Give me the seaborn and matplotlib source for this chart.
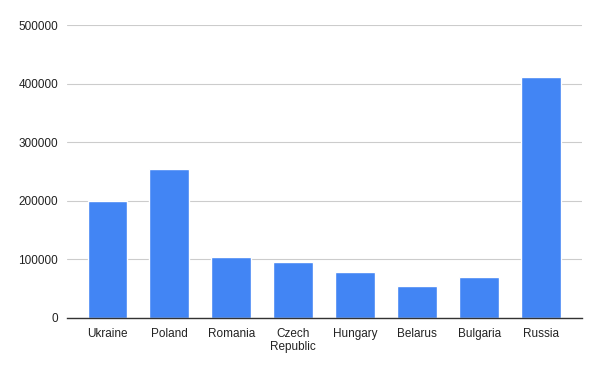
import matplotlib
matplotlib.use("Agg")
import matplotlib.pyplot as plt
import seaborn as sns
import pandas as pd

paises = ["Ukraine", "Poland", "Romania", "Czech\nRepublic", "Hungary",
          "Belarus", "Bulgaria", "Russia"]
valores = [200000, 254000, 104000, 96000, 79000, 55000, 70000, 412000]

df = pd.DataFrame({"pais": paises, "valor": valores})

sns.set_theme(style="white")
plt.rcParams["font.family"] = ["Liberation Sans", "DejaVu Sans"]

fig = plt.figure(figsize=(6, 3.71), dpi=100)
ax = fig.add_axes([0.111, 0.143, 0.859, 0.789])

sns.barplot(data=df, x="pais", y="valor", color="#4285f4", width=0.645,
            saturation=1, ax=ax, zorder=3)

ax.set_ylim(0, 500000)
ax.set_xlim(-0.66, 7.66)
ax.set_yticks([0, 100000, 200000, 300000, 400000, 500000])
ax.set_yticklabels(["0", "100000", "200000", "300000", "400000", "500000"])
ax.grid(axis="y", color="#cccccc", linewidth=0.8, zorder=0)
ax.set_xlabel("")
ax.set_ylabel("")
for lado in ["top", "right", "left"]:
    ax.spines[lado].set_visible(False)
ax.spines["bottom"].set_color("#333333")
ax.spines["bottom"].set_linewidth(1)
ax.spines["bottom"].set_zorder(4)
ax.tick_params(axis="both", length=0, labelsize=8.5, labelcolor="#222222")
ax.tick_params(axis="x", pad=7)
ax.tick_params(axis="y", pad=6)
for t in ax.get_xticklabels():
    t.set_linespacing(1.2)

fig.savefig("out.png", dpi=100, facecolor="white")
